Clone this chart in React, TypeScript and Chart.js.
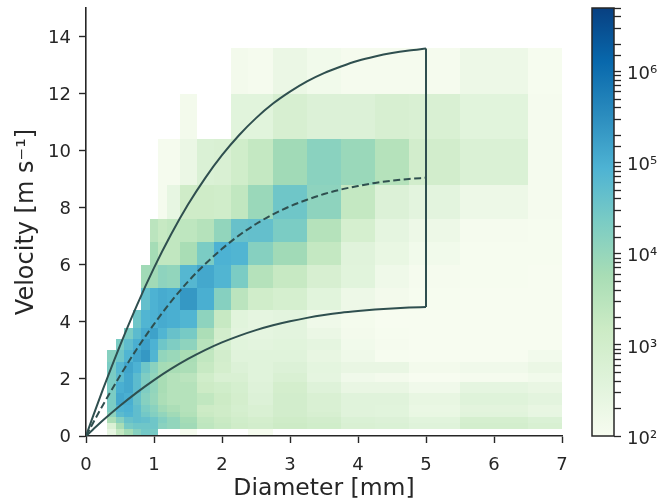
import React, { useEffect, useRef } from "react";
import { Chart, registerables } from "chart.js";

Chart.register(...registerables);

const FONT = "'DejaVu Sans', sans-serif";
const INK = "#262626";
const CURVE = "#2f4f4f";

const diameterEdges = [0.3125, 0.4375, 0.5625, 0.6875, 0.8125, 0.9375, 1.0625, 1.1875, 1.375, 1.625, 1.875, 2.125, 2.375, 2.75, 3.25, 3.75, 4.25, 4.75, 5.5, 6.5, 7.5];
const velocityEdges = [0.05, 0.25, 0.45, 0.65, 0.85, 1.1, 1.5, 1.9, 2.2, 2.6, 3.0, 3.4, 3.8, 4.4, 5.2, 6.0, 6.8, 7.6, 8.8, 10.4, 12.0, 13.6];

const _ = null;
// log10(count) per velocity band, bottom to top; one entry per diameter bin
const logCounts: (number | null)[][] = [
  [2.4, 3.3, 3.8, 4.2, 4.45, 4.4, _, _, 2.02, _, _, _, 2.02, _, _, _, _, _, _, _],
  [2.75, 3.75, 4.4, 4.5, 4.5, 4.5, 4.15, 4.05, 3.85, 3.4, 3.25, 3.1, 3.0, 3.15, 3.05, 2.8, 2.76, 2.62, 2.97, 2.82],
  [3.7, 4.2, 4.6, 4.7, 4.65, 4.5, 4.25, 4.05, 3.8, 3.35, 3.2, 3.05, 2.95, 3.1, 3.0, 2.75, 2.7, 2.55, 2.9, 2.75],
  [4.1, 4.75, 4.9, 4.7, 4.45, 4.25, 4.05, 3.85, 3.6, 3.2, 3.1, 2.95, 2.8, 3.0, 2.85, 2.6, 2.55, 2.35, 2.55, 2.4],
  [4.35, 4.9, 4.95, 4.7, 4.35, 4.15, 3.85, 3.7, 3.55, 3.15, 3.1, 2.9, 2.8, 3.0, 2.8, 2.6, 2.55, 2.33, 2.52, 2.38],
  [4.35, 5.1, 5.0, 4.6, 4.2, 4.0, 3.7, 3.55, 3.55, 3.35, 3.15, 2.95, 2.7, 3.0, 2.8, 2.6, 2.6, 2.38, 2.62, 2.5],
  [4.35, 5.0, 5.1, 4.75, 4.3, 4.05, 3.75, 3.55, 3.55, 3.15, 3.05, 2.9, 2.65, 2.95, 2.65, 2.36, 2.36, 2.18, 2.45, 2.36],
  [4.35, 4.75, 5.1, 4.75, 4.3, 4.05, 3.75, 3.55, 3.45, 3.05, 2.8, 2.8, 2.6, 2.8, 2.45, 2.18, 2.1, 2.0, 2.05, 2.15],
  [4.35, 4.85, 5.15, 4.95, 4.5, 4.15, 3.8, 3.75, 3.7, 3.25, 2.95, 2.7, 2.6, 2.7, 2.48, 2.36, 2.36, 2.1, 2.18, 2.3],
  [4.2, 4.5, 4.9, 5.15, 5.35, 4.9, 4.05, 3.95, 3.75, 3.35, 3.0, 2.6, 2.6, 2.6, 2.38, 2.2, 2.03, 2.0, 2.0, 2.12],
  [_, 4.35, 4.7, 5.0, 5.2, 4.95, 4.5, 4.3, 4.1, 3.5, 2.9, 2.55, 2.5, 2.55, 2.45, 2.15, 2.05, 2.0, 2.0, 2.0],
  [_, _, 4.35, 4.75, 5.05, 5.2, 4.9, 4.6, 4.4, 3.7, 3.0, 2.5, 2.45, 2.5, 2.3, 2.1, 2.02, 2.0, 2.0, 2.0],
  [_, _, _, 4.5, 4.9, 4.95, 5.05, 5.0, 4.9, 4.1, 3.25, 2.55, 2.45, 2.5, 2.2, 2.08, 2.0, 2.0, 2.0, 2.0],
  [_, _, _, _, 4.65, 4.95, 5.05, 5.0, 5.35, 5.0, 4.2, 3.45, 3.05, 2.9, 2.55, 2.25, 2.1, 2.02, 2.0, 2.0],
  [_, _, _, _, 3.85, 3.85, 4.1, 4.05, 4.85, 5.1, 4.9, 4.35, 3.55, 3.25, 2.85, 2.55, 2.2, 2.05, 2.02, 2.0],
  [_, _, _, _, _, 3.8, 3.35, 3.35, 3.75, 4.35, 4.95, 4.9, 4.2, 3.85, 3.3, 2.6, 2.35, 2.15, 2.03, 2.03],
  [_, _, _, _, _, 3.45, 3.25, 3.35, 3.4, 3.55, 4.05, 4.6, 4.65, 4.35, 3.55, 2.9, 2.45, 2.25, 2.05, 2.03],
  [_, _, _, _, _, _, 2.05, 2.4, 3.1, 3.1, 3.05, 3.35, 3.95, 4.5, 4.1, 3.3, 2.7, 2.5, 2.25, 2.05],
  [_, _, _, _, _, _, 2.05, 2.05, 2.3, 2.75, 2.8, 3.05, 3.3, 3.85, 4.15, 3.95, 3.55, 3.0, 2.75, 2.05],
  [_, _, _, _, _, _, _, _, 2.1, _, _, 2.55, 2.55, 2.85, 2.7, 2.7, 2.85, 2.8, 2.55, 2.05],
  [_, _, _, _, _, _, _, _, _, _, _, 2.1, 2.05, 2.3, 2.15, 2.05, 2.05, 2.05, 2.25, 2.03],
];

const curveD = [0, 0.1, 0.25, 0.5, 0.75, 1, 1.25, 1.5, 1.75, 2, 2.25, 2.5, 2.75, 3, 3.25, 3.5, 3.75, 4, 4.25, 4.5, 4.75, 5];
const upperV = [0, 0.67, 1.64, 3.17, 4.59, 5.89, 7.06, 8.11, 9.03, 9.84, 10.54, 11.14, 11.65, 12.07, 12.43, 12.72, 12.95, 13.15, 13.3, 13.42, 13.51, 13.58];
const middleV = [0, 0.44, 1.09, 2.11, 3.06, 3.92, 4.71, 5.41, 6.02, 6.56, 7.03, 7.43, 7.77, 8.05, 8.28, 8.48, 8.64, 8.76, 8.87, 8.95, 9.01, 9.05];
const lowerV = [0, 0.22, 0.55, 1.06, 1.53, 1.96, 2.35, 2.7, 3.01, 3.28, 3.51, 3.71, 3.88, 4.02, 4.14, 4.24, 4.32, 4.38, 4.43, 4.47, 4.5, 4.52];
const boundaryD = [5, 5];
const boundaryV = [4.52, 13.58];

const xTitle = "Diameter [mm]";
const yTitle = "Velocity [m s\u207B\u00B9]";
const colorMin = 100;
const colorMax = 5e6;
const superscripts: Record<string, string> = { "2": "\u00B2", "3": "\u00B3", "4": "\u2074", "5": "\u2075", "6": "\u2076" };

const gnBu = ["#f7fcf0", "#e0f3db", "#ccebc5", "#a8ddb5", "#7bccc4", "#4eb3d3", "#2b8cbe", "#0868ac", "#084081"];

function hexRgb(h: string) {
  return [parseInt(h.slice(1, 3), 16), parseInt(h.slice(3, 5), 16), parseInt(h.slice(5, 7), 16)];
}

function colorFor(logValue: number) {
  const span = Math.log10(colorMax / colorMin);
  const t = Math.min(1, Math.max(0, (logValue - Math.log10(colorMin)) / span)) * (gnBu.length - 1);
  const i = Math.min(gnBu.length - 2, Math.floor(t));
  const a = hexRgb(gnBu[i]);
  const b = hexRgb(gnBu[i + 1]);
  const f = t - i;
  return `rgb(${a.map((v, k) => Math.round(v + (b[k] - v) * f)).join(",")})`;
}

const toXY = (xs: number[], ys: number[]) => xs.map((x, i) => ({ x, y: ys[i] }));

const cells = logCounts.flatMap((row, r) =>
  row.flatMap((lv, c) =>
    lv === null
      ? []
      : [{
          x: (diameterEdges[c] + diameterEdges[c + 1]) / 2,
          y: (velocityEdges[r] + velocityEdges[r + 1]) / 2,
          x0: diameterEdges[c],
          x1: diameterEdges[c + 1],
          y0: velocityEdges[r],
          y1: velocityEdges[r + 1],
          lv,
        }]
  )
);

const heatPlugin = {
  id: "heat",
  beforeDatasetsDraw(chart: any) {
    const { ctx, chartArea: a, scales, width, height } = chart;
    const layer = document.createElement("canvas");
    layer.width = width;
    layer.height = height;
    const lc = layer.getContext("2d")!;
    for (const cell of chart.data.datasets[0].data) {
      const l = Math.round(scales.x.getPixelForValue(cell.x0));
      const r = Math.round(scales.x.getPixelForValue(cell.x1));
      const t = Math.round(scales.y.getPixelForValue(cell.y1));
      const b = Math.round(scales.y.getPixelForValue(cell.y0));
      lc.fillStyle = colorFor(cell.lv);
      lc.fillRect(l, t, r - l, b - t);
    }
    ctx.save();
    ctx.beginPath();
    ctx.rect(a.left, a.top, a.right - a.left, a.bottom - a.top);
    ctx.clip();
    ctx.filter = "blur(0.7px)";
    ctx.drawImage(layer, 0, 0);
    ctx.restore();
  },
};

const outlinePlugin = {
  id: "outline",
  afterDraw(chart: any) {
    const { ctx, chartArea: a } = chart;
    ctx.save();
    ctx.strokeStyle = INK;
    ctx.lineWidth = 1.5;
    ctx.strokeRect(a.left, a.top, a.right - a.left, a.bottom - a.top);
    ctx.restore();
  },
};

const canvasStyle: React.CSSProperties = { position: "absolute", left: 0, top: 0 };

const noEdgePadding = (s: any) => {
  s.paddingTop = 0;
  s.paddingBottom = 0;
  s.paddingLeft = 0;
  s.paddingRight = 0;
};

export default function App() {
  const mainRef = useRef<HTMLCanvasElement>(null);
  const barRef = useRef<HTMLCanvasElement>(null);

  useEffect(() => {
    const line = (xs: number[], ys: number[], dash: number[] = []) => ({
      data: toXY(xs, ys),
      showLine: true,
      borderColor: CURVE,
      borderWidth: 2,
      borderDash: dash,
      pointRadius: 0,
      tension: 0,
      cubicInterpolationMode: "monotone",
    });
    const axisBase = {
      border: { display: true, color: INK, width: 1.6 },
      grid: { drawOnChartArea: false, drawTicks: true, tickLength: 7, tickColor: INK, tickWidth: 1.4 },
    };
    const main = new Chart(mainRef.current!, {
      type: "scatter",
      data: {
        datasets: [
          { data: cells, pointRadius: 0, showLine: false },
          line(curveD, upperV),
          line(curveD, middleV, [7, 3.5]),
          line(curveD, lowerV),
          line(boundaryD, boundaryV),
        ] as any,
      },
      plugins: [heatPlugin],
      options: {
        animation: false,
        responsive: false,
        layout: { padding: { top: 8, right: 98, left: 0, bottom: 0 } },
        plugins: { legend: { display: false }, tooltip: { enabled: false } },
        scales: {
          x: {
            type: "linear",
            min: 0,
            max: 7,
            ...axisBase,
            afterFit: (s: any) => { s.height = 63; noEdgePadding(s); },
            ticks: { stepSize: 1, color: INK, font: { family: FONT, size: 18 }, padding: 12, maxRotation: 0, includeBounds: false },
            title: { display: true, text: xTitle, color: INK, font: { family: FONT, size: 23.5, lineHeight: 1 }, padding: { top: 0, bottom: -2 } },
          },
          y: {
            type: "linear",
            min: 0,
            max: 15,
            ...axisBase,
            afterFit: (s: any) => { s.width = 86; noEdgePadding(s); },
            ticks: {
              stepSize: 2,
              color: INK,
              font: { family: FONT, size: 18, lineHeight: 0.17 },
              padding: 8,
              includeBounds: false,
              callback: (v: number) => ["", String(v)],
            },
            title: { display: true, text: yTitle, color: INK, font: { family: FONT, size: 24, lineHeight: 1 }, padding: { top: 14.5, bottom: 0 } },
          },
        },
      } as any,
    });

    const bar = new Chart(barRef.current!, {
      type: "bar",
      data: {
        labels: [""],
        datasets: [
          {
            data: [[colorMin, colorMax]],
            barPercentage: 1,
            categoryPercentage: 1,
            backgroundColor: (c: any) => {
              const a = c.chart.chartArea;
              if (!a) return gnBu[0];
              const g = c.chart.ctx.createLinearGradient(0, a.bottom, 0, a.top);
              gnBu.forEach((col, i) => g.addColorStop(i / (gnBu.length - 1), col));
              return g;
            },
          },
        ] as any,
      },
      plugins: [outlinePlugin],
      options: {
        animation: false,
        responsive: false,
        layout: { padding: { top: 8, left: 592, right: 0, bottom: 63 } },
        plugins: { legend: { display: false }, tooltip: { enabled: false } },
        scales: {
          x: { display: false },
          y: {
            type: "logarithmic",
            position: "right",
            min: colorMin,
            max: colorMax,
            border: { display: false },
            grid: { drawOnChartArea: false, drawTicks: true, tickLength: 7, tickColor: INK, tickWidth: 1.3 },
            afterFit: (s: any) => { s.width = 46; noEdgePadding(s); },
            ticks: {
              autoSkip: false,
              padding: 6,
              color: INK,
              font: { family: FONT, size: 18, lineHeight: 0.33 },
              callback: (v: number) => {
                const e = Math.log10(v);
                return Math.abs(e - Math.round(e)) < 1e-9 ? ["", `10${superscripts[String(Math.round(e))]}`] : "";
              },
            },
          },
        },
      } as any,
    });

    return () => {
      main.destroy();
      bar.destroy();
    };
  }, []);

  return (
    <div style={{ position: "absolute", left: 0, top: 0, width: 660, height: 499 }}>
      <canvas ref={mainRef} width={660} height={499} style={canvasStyle} />
      <canvas ref={barRef} width={660} height={499} style={canvasStyle} />
    </div>
  );
}
